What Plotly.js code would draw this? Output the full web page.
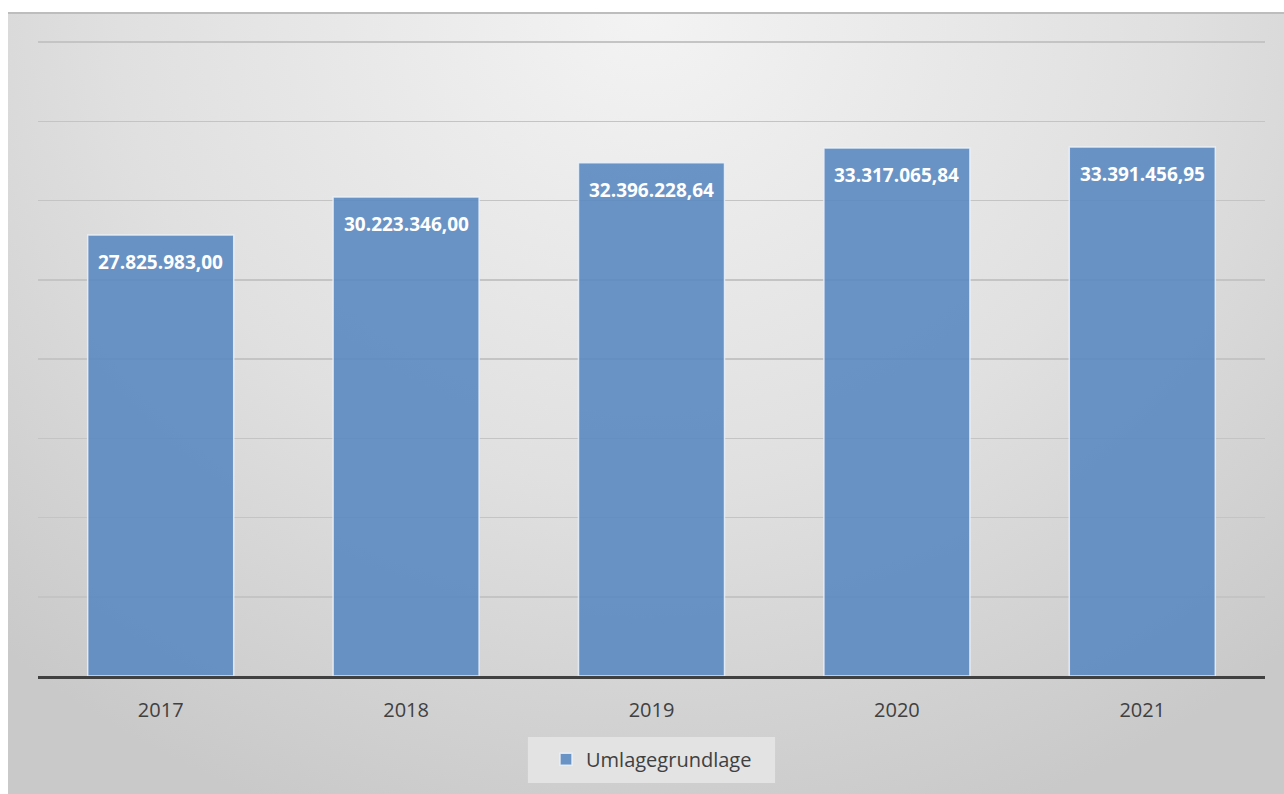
<!DOCTYPE html>
<html>
<head>
<meta charset="utf-8">
<script src="https://cdn.plot.ly/plotly-3.0.1.min.js"></script>
<style>
  html, body { margin: 0; padding: 0; background: #ffffff; width: 1284px; height: 794px; overflow: hidden; }
  #bg { position: absolute; left: 8px; top: 12px; width: 1276px; height: 782px;
        border-top: 2px solid #bdbdbd; box-sizing: border-box;
        background: radial-gradient(ellipse 75% 110% at 50% 0%, #f3f3f3 0%, #e0e0e0 55%, #c9c9c9 100%); }
  #plot { position: absolute; left: 0; top: 0; width: 1284px; height: 794px; }
</style>
</head>
<body>
<div id="bg"></div>
<div id="plot"></div>
<script>
const years = ['2017', '2018', '2019', '2020', '2021'];
const umlagegrundlage = [27825983.00, 30223346.00, 32396228.64, 33317065.84, 33391456.95];
const seriesName = 'Umlagegrundlage';

function fmtDE(v) {
  const parts = v.toFixed(2).split('.');
  const intPart = parts[0].replace(/\B(?=(\d{3})+(?!\d))/g, '.');
  return intPart + ',' + parts[1];
}

const trace = {
  type: 'bar',
  x: years,
  y: umlagegrundlage,
  name: seriesName,
  marker: { color: 'rgba(92,137,193,0.9)', line: { color: 'rgba(235,242,250,0.85)', width: 1.5 } },
  textposition: 'none',
  hoverinfo: 'skip',
  showlegend: true
};

// category index used as x so that '2017' is not read as a numeric index
const annotations = years.map((yr, i) => ({
  x: i, y: umlagegrundlage[i], xref: 'x', yref: 'y',
  text: '<b>' + fmtDE(umlagegrundlage[i]) + '</b>',
  showarrow: false, yanchor: 'middle', yshift: -27,
  font: { family: 'Open Sans, Liberation Sans, sans-serif', size: 19, color: '#ffffff' }
}));

const layout = {
  width: 1284, height: 794,
  margin: { l: 38, r: 19, t: 39, b: 118 },
  paper_bgcolor: 'rgba(0,0,0,0)',
  plot_bgcolor: 'rgba(0,0,0,0)',
  bargap: 0.405,
  font: { family: 'Open Sans, Liberation Sans, sans-serif', color: '#404040' },
  xaxis: {
    type: 'category',
    range: [-0.5, years.length - 0.5],
    showline: true, linecolor: '#404040', linewidth: 3,
    ticks: '', showgrid: false, zeroline: false,
    tickfont: { size: 20, color: '#404040' },
    ticklabelstandoff: 14,
    fixedrange: true
  },
  yaxis: {
    range: [0, 40200000], dtick: 5000000, tick0: 0,
    showticklabels: false, ticks: '',
    showgrid: true, gridcolor: '#c4c4c4', gridwidth: 1.5,
    zeroline: false, showline: false,
    fixedrange: true
  },
  showlegend: true,
  legend: {
    orientation: 'h', x: 0.5, xanchor: 'center', y: -0.1, yanchor: 'top',
    bgcolor: 'rgba(0,0,0,0)', font: { size: 20, color: '#404040' },
    borderwidth: 0
  },
  shapes: [{
    type: 'rect', xref: 'paper', yref: 'paper', layer: 'below',
    x0: 0.3993, x1: 0.6007, y0: -0.0958, y1: -0.168,
    fillcolor: '#e3e3e3', line: { width: 0 }
  }],
  annotations: annotations,
  hovermode: false
};

Plotly.newPlot('plot', [trace], layout, { displayModeBar: false, staticPlot: true });
</script>
</body>
</html>
